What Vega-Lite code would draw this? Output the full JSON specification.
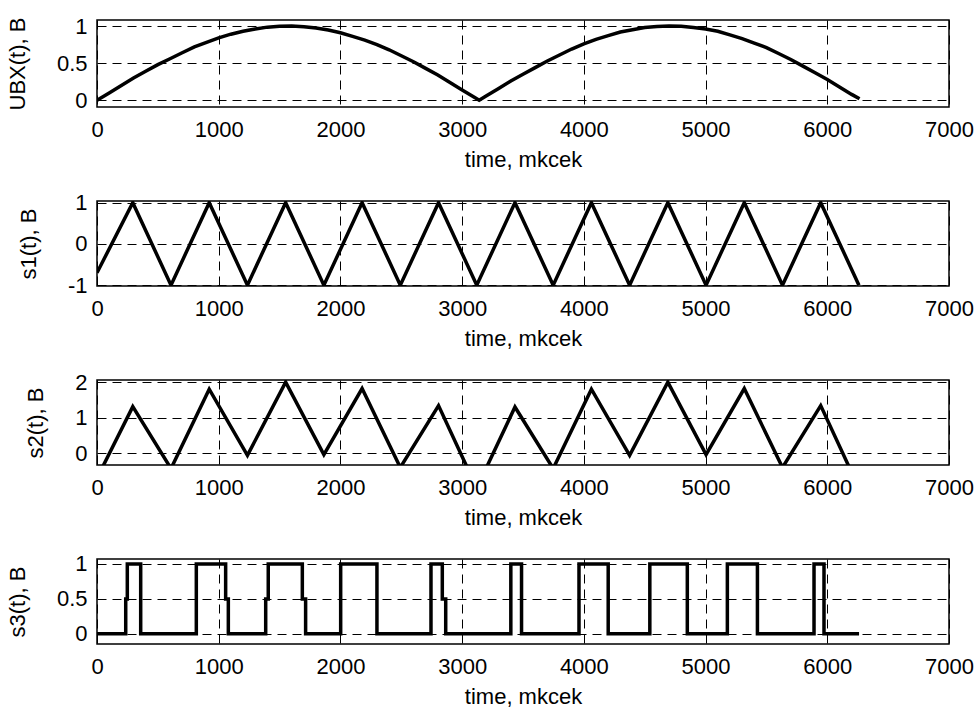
{
  "$schema": "https://vega.github.io/schema/vega-lite/v6.json",
  "background": "white",
  "padding": {"left": 5, "top": 14, "right": 0, "bottom": 0},
  "bounds": "flush",
  "spacing": 94,
  "config": {
    "font": "Liberation Sans",
    "view": {"stroke": "#000", "strokeWidth": 1.5},
    "axis": {
      "labelFont": "Liberation Sans", "labelFontSize": 22, "labelColor": "#000",
      "titleFont": "Liberation Sans", "titleFontSize": 22, "titleFontWeight": "normal", "titleColor": "#000",
      "ticks": false, "domain": false, "grid": true, "gridColor": "#000", "gridDash": [9, 6], "gridWidth": 1, "gridOpacity": 1,
      "labelFlush": false, "labelOverlap": false
    },
    "axisX": {"labelPadding": 12, "titlePadding": 9},
    "axisY": {"labelPadding": 10, "titlePadding": 27}
  },
  "datasets": {
    "ubx": [
      {"t": 0, "v": 0}, {"t": 100, "v": 0.10}, {"t": 200, "v": 0.20}, {"t": 300, "v": 0.30}, {"t": 400, "v": 0.39},
      {"t": 500, "v": 0.48}, {"t": 600, "v": 0.56}, {"t": 700, "v": 0.64}, {"t": 800, "v": 0.72}, {"t": 900, "v": 0.78},
      {"t": 1000, "v": 0.84}, {"t": 1100, "v": 0.89}, {"t": 1200, "v": 0.93}, {"t": 1300, "v": 0.96}, {"t": 1400, "v": 0.985},
      {"t": 1500, "v": 0.997}, {"t": 1600, "v": 1.0}, {"t": 1700, "v": 0.99}, {"t": 1800, "v": 0.974}, {"t": 1900, "v": 0.946},
      {"t": 2000, "v": 0.91}, {"t": 2100, "v": 0.86}, {"t": 2200, "v": 0.81}, {"t": 2300, "v": 0.75}, {"t": 2400, "v": 0.68},
      {"t": 2500, "v": 0.60}, {"t": 2600, "v": 0.52}, {"t": 2700, "v": 0.43}, {"t": 2800, "v": 0.34}, {"t": 2900, "v": 0.24},
      {"t": 3000, "v": 0.14}, {"t": 3100, "v": 0.04}, {"t": 3140, "v": 0.0}, {"t": 3200, "v": 0.06}, {"t": 3300, "v": 0.16},
      {"t": 3400, "v": 0.26}, {"t": 3500, "v": 0.35}, {"t": 3600, "v": 0.44}, {"t": 3700, "v": 0.53}, {"t": 3800, "v": 0.61},
      {"t": 3900, "v": 0.69}, {"t": 4000, "v": 0.76}, {"t": 4100, "v": 0.82}, {"t": 4200, "v": 0.87}, {"t": 4300, "v": 0.92},
      {"t": 4400, "v": 0.95}, {"t": 4500, "v": 0.98}, {"t": 4600, "v": 0.994}, {"t": 4700, "v": 1.0}, {"t": 4800, "v": 0.996},
      {"t": 4900, "v": 0.98}, {"t": 5000, "v": 0.96}, {"t": 5100, "v": 0.93}, {"t": 5200, "v": 0.88}, {"t": 5300, "v": 0.83},
      {"t": 5400, "v": 0.77}, {"t": 5500, "v": 0.71}, {"t": 5600, "v": 0.63}, {"t": 5700, "v": 0.55}, {"t": 5800, "v": 0.46},
      {"t": 5900, "v": 0.37}, {"t": 6000, "v": 0.28}, {"t": 6100, "v": 0.18}, {"t": 6200, "v": 0.08}, {"t": 6265, "v": 0.02}
    ],
    "s1": [
      {"t": 0, "v": -0.7}, {"t": 294, "v": 1}, {"t": 608, "v": -1}, {"t": 922, "v": 1}, {"t": 1236, "v": -1},
      {"t": 1550, "v": 1}, {"t": 1864, "v": -1}, {"t": 2178, "v": 1}, {"t": 2492, "v": -1}, {"t": 2806, "v": 1},
      {"t": 3120, "v": -1}, {"t": 3434, "v": 1}, {"t": 3748, "v": -1}, {"t": 4062, "v": 1}, {"t": 4376, "v": -1},
      {"t": 4690, "v": 1}, {"t": 5004, "v": -1}, {"t": 5318, "v": 1}, {"t": 5632, "v": -1}, {"t": 5946, "v": 1},
      {"t": 6260, "v": -1}
    ],
    "s2": [
      {"t": 0, "v": -0.7}, {"t": 294, "v": 1.31}, {"t": 608, "v": -0.43}, {"t": 922, "v": 1.8}, {"t": 1236, "v": -0.06},
      {"t": 1550, "v": 2.0}, {"t": 1864, "v": -0.04}, {"t": 2178, "v": 1.82}, {"t": 2492, "v": -0.4}, {"t": 2806, "v": 1.34},
      {"t": 3120, "v": -0.98}, {"t": 3434, "v": 1.3}, {"t": 3748, "v": -0.43}, {"t": 4062, "v": 1.8}, {"t": 4376, "v": -0.06},
      {"t": 4690, "v": 2.0}, {"t": 5004, "v": -0.04}, {"t": 5318, "v": 1.82}, {"t": 5632, "v": -0.4}, {"t": 5946, "v": 1.34},
      {"t": 6260, "v": -0.98}
    ],
    "s3": [
      {"t": 0, "v": 0}, {"t": 236, "v": 0.5}, {"t": 249, "v": 1}, {"t": 359, "v": 0}, {"t": 816, "v": 1},
      {"t": 1057, "v": 0.5}, {"t": 1079, "v": 0}, {"t": 1386, "v": 0.5}, {"t": 1407, "v": 1}, {"t": 1687, "v": 0.5},
      {"t": 1714, "v": 0}, {"t": 2002, "v": 1}, {"t": 2300, "v": 0}, {"t": 2744, "v": 1}, {"t": 2837, "v": 0.5},
      {"t": 2865, "v": 0}, {"t": 3400, "v": 1}, {"t": 3488, "v": 0}, {"t": 3960, "v": 1}, {"t": 4200, "v": 0},
      {"t": 4542, "v": 1}, {"t": 4850, "v": 0}, {"t": 5179, "v": 1}, {"t": 5426, "v": 0}, {"t": 5891, "v": 1},
      {"t": 5973, "v": 0}, {"t": 6261, "v": 0}
    ]
  },
  "vconcat": [
    {
      "width": 852, "height": 87,
      "data": {"name": "ubx"},
      "mark": {"type": "line", "color": "#000", "strokeWidth": 3.5, "clip": true},
      "encoding": {
        "x": {"field": "t", "type": "quantitative", "scale": {"domain": [0, 7000], "nice": false, "zero": false},
              "axis": {"values": [0, 1000, 2000, 3000, 4000, 5000, 6000, 7000], "format": "d", "title": "time,  mkcek"}},
        "y": {"field": "v", "type": "quantitative", "scale": {"domain": [-0.09, 1.081], "nice": false, "zero": false},
              "axis": {"values": [0, 0.5, 1], "labelExpr": "'' + datum.value", "title": "UBX(t), B"}}
      }
    },
    {
      "width": 852, "height": 85,
      "data": {"name": "s1"},
      "mark": {"type": "line", "color": "#000", "strokeWidth": 3.5, "clip": true},
      "encoding": {
        "x": {"field": "t", "type": "quantitative", "scale": {"domain": [0, 7000], "nice": false, "zero": false},
              "axis": {"values": [0, 1000, 2000, 3000, 4000, 5000, 6000, 7000], "format": "d", "title": "time,  mkcek"}},
        "y": {"field": "v", "type": "quantitative", "scale": {"domain": [-1.02, 1.04], "nice": false, "zero": false},
              "axis": {"values": [-1, 0, 1], "labelExpr": "'' + datum.value", "title": "s1(t), B"}}
      }
    },
    {
      "width": 852, "height": 85,
      "data": {"name": "s2"},
      "mark": {"type": "line", "color": "#000", "strokeWidth": 3.5, "clip": true},
      "encoding": {
        "x": {"field": "t", "type": "quantitative", "scale": {"domain": [0, 7000], "nice": false, "zero": false},
              "axis": {"values": [0, 1000, 2000, 3000, 4000, 5000, 6000, 7000], "format": "d", "title": "time,  mkcek"}},
        "y": {"field": "v", "type": "quantitative", "scale": {"domain": [-0.33, 2.06], "nice": false, "zero": false},
              "axis": {"values": [0, 1, 2], "labelExpr": "'' + datum.value", "title": "s2(t), B"}}
      }
    },
    {
      "width": 852, "height": 85,
      "data": {"name": "s3"},
      "mark": {"type": "line", "color": "#000", "strokeWidth": 3.5, "clip": true, "interpolate": "step-after"},
      "encoding": {
        "x": {"field": "t", "type": "quantitative", "scale": {"domain": [0, 7000], "nice": false, "zero": false},
              "axis": {"values": [0, 1000, 2000, 3000, 4000, 5000, 6000, 7000], "format": "d", "title": "time,  mkcek"}},
        "y": {"field": "v", "type": "quantitative", "scale": {"domain": [-0.145, 1.07], "nice": false, "zero": false},
              "axis": {"values": [0, 0.5, 1], "labelExpr": "'' + datum.value", "title": "s3(t), B"}}
      }
    }
  ]
}
